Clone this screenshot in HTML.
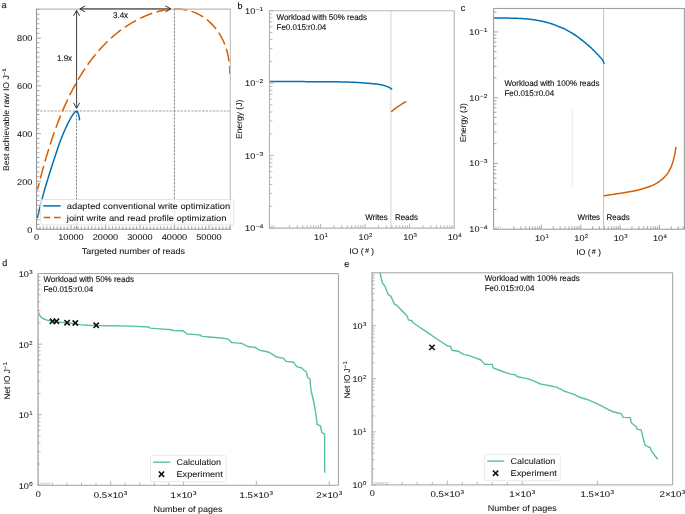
<!DOCTYPE html>
<html>
<head>
<meta charset="utf-8">
<title>Figure</title>
<style>
html,body{margin:0;padding:0;background:#ffffff;}
body{width:685px;height:514px;overflow:hidden;}
svg{display:block;will-change:transform;font-family:"Liberation Sans",sans-serif;}
text{stroke:#111;stroke-width:0.13px;text-rendering:geometricPrecision;}
text.d{stroke-width:0.06px;}
</style>
</head>
<body>
<svg width="685" height="514" viewBox="0 0 685 514">
<rect x="0" y="0" width="685" height="514" fill="#ffffff"/>
<defs><filter id="nf" filterUnits="userSpaceOnUse" x="0" y="0" width="685" height="514"><feOffset dx="0" dy="0"/></filter></defs>
<g filter="url(#nf)">
<line x1="36.5" y1="111" x2="230.3" y2="111" stroke="#a4a4a4" stroke-width="1.0" stroke-dasharray="2.4 1.2"/>
<line x1="76.5" y1="111" x2="76.5" y2="229.2" stroke="#6e6e6e" stroke-width="0.8" stroke-dasharray="2.5 1.1"/>
<line x1="174.4" y1="9.15" x2="174.4" y2="229.2" stroke="#6e6e6e" stroke-width="0.8" stroke-dasharray="2.5 1.1"/>
<path d="M37.4 218 L37.5 217.59 L37.61 217.09 L37.75 216.51 L37.9 215.85 L38.07 215.13 L38.24 214.37 L38.43 213.57 L38.62 212.75 L38.82 211.92 L39.01 211.1 L39.21 210.28 L39.4 209.5 L39.59 208.74 L39.77 207.99 L39.95 207.23 L40.14 206.48 L40.33 205.71 L40.52 204.93 L40.72 204.13 L40.93 203.3 L41.15 202.44 L41.38 201.54 L41.63 200.59 L41.9 199.6 L42.18 198.55 L42.48 197.45 L42.8 196.29 L43.13 195.1 L43.46 193.88 L43.81 192.63 L44.17 191.36 L44.53 190.09 L44.9 188.8 L45.26 187.52 L45.63 186.25 L46 185 L46.37 183.75 L46.75 182.5 L47.13 181.23 L47.52 179.96 L47.91 178.69 L48.31 177.41 L48.7 176.14 L49.1 174.86 L49.5 173.59 L49.9 172.32 L50.3 171.05 L50.7 169.8 L51.1 168.55 L51.49 167.31 L51.88 166.08 L52.28 164.84 L52.67 163.62 L53.07 162.39 L53.47 161.16 L53.87 159.93 L54.27 158.7 L54.68 157.47 L55.09 156.24 L55.5 155 L55.92 153.75 L56.35 152.47 L56.78 151.18 L57.22 149.89 L57.66 148.59 L58.1 147.29 L58.54 146.01 L58.98 144.75 L59.42 143.51 L59.85 142.3 L60.28 141.13 L60.7 140 L61.11 138.91 L61.53 137.85 L61.94 136.82 L62.34 135.81 L62.74 134.83 L63.14 133.88 L63.54 132.94 L63.94 132.02 L64.33 131.12 L64.72 130.23 L65.11 129.36 L65.5 128.5 L65.89 127.65 L66.28 126.82 L66.67 126 L67.06 125.19 L67.45 124.41 L67.83 123.64 L68.21 122.89 L68.59 122.16 L68.95 121.46 L69.31 120.78 L69.66 120.13 L70 119.5 L70.33 118.9 L70.65 118.32 L70.96 117.77 L71.26 117.24 L71.56 116.73 L71.85 116.25 L72.13 115.79 L72.41 115.35 L72.69 114.93 L72.96 114.53 L73.23 114.16 L73.5 113.8 L73.77 113.46 L74.03 113.14 L74.3 112.83 L74.56 112.54 L74.82 112.27 L75.07 112.03 L75.31 111.81 L75.55 111.63 L75.78 111.47 L76 111.34 L76.21 111.25 L76.4 111.2 L76.58 111.19 L76.75 111.23 L76.91 111.31 L77.05 111.42 L77.19 111.56 L77.32 111.73 L77.44 111.92 L77.56 112.13 L77.67 112.34 L77.78 112.56 L77.89 112.78 L78 113 L78.11 113.22 L78.21 113.46 L78.3 113.7 L78.39 113.96 L78.48 114.23 L78.56 114.51 L78.64 114.8 L78.72 115.09 L78.79 115.39 L78.86 115.69 L78.93 116 L79 116.3 L79.07 116.62 L79.13 116.97 L79.19 117.34 L79.25 117.73 L79.31 118.12 L79.36 118.51 L79.41 118.88 L79.46 119.24 L79.5 119.56 L79.54 119.86 L79.57 120.1 L79.6 120.3" fill="none" stroke="#0072B2" stroke-width="1.5" stroke-linejoin="round" stroke-linecap="butt"/>
<path d="M37.56 189.41 L38.05 187.47 L38.54 185.52 L39.03 183.56 L39.53 181.59 L40.04 179.62 L40.56 177.64 L41.08 175.65 L41.61 173.66 L42.15 171.66 L42.69 169.66 L43.25 167.65 L43.81 165.63 L44.38 163.61 L44.95 161.59 L45.54 159.56 L46.13 157.53 L46.74 155.5 L47.35 153.46 L47.97 151.42 L48.6 149.38 L49.24 147.34 L49.89 145.3 L50.55 143.26 L51.22 141.21 L51.9 139.17 L52.59 137.13 L53.29 135.09 L54 133.05 L54.72 131.01 L55.46 128.98 L56.2 126.95 L56.96 124.92 L57.72 122.89 L58.5 120.87 L59.3 118.85 L60.1 116.84 L60.91 114.83 L61.74 112.83 L62.58 110.83 L63.44 108.84 L64.3 106.86 L65.18 104.88 L66.08 102.91 L66.98 100.95 L67.9 99 L68.84 97.05 L69.79 95.12 L70.75 93.19 L71.73 91.28 L72.72 89.37 L73.72 87.47 L74.74 85.59 L75.78 83.72 L76.83 81.85 L77.9 80.01 L78.98 78.17 L80.08 76.35 L81.2 74.54 L82.33 72.74 L83.47 70.96 L84.64 69.19 L85.82 67.44 L87.01 65.7 L88.23 63.98 L89.46 62.27 L90.71 60.58 L91.97 58.91 L93.26 57.26 L94.56 55.62 L95.88 54 L97.22 52.4 L98.58 50.82 L99.95 49.26 L101.35 47.71 L102.77 46.19 L104.2 44.69 L105.66 43.21 L107.14 41.75 L108.64 40.31 L110.16 38.9 L111.71 37.5 L113.27 36.13 L114.86 34.79 L116.48 33.46 L118.11 32.16 L119.77 30.89 L121.45 29.64 L123.16 28.41 L124.89 27.22 L126.65 26.04 L128.43 24.9 L130.24 23.78 L132.07 22.68 L133.93 21.62 L135.81 20.58 L137.73 19.57 L139.66 18.59 L141.63 17.64 L143.62 16.73 L145.63 15.85 L147.67 15.01 L149.72 14.21 L151.79 13.45 L153.87 12.75 L155.96 12.09 L158.06 11.49 L160.17 10.95 L162.29 10.47 L164.4 10.05 L166.52 9.69 L168.64 9.41 L170.75 9.2 L172.86 9.06 L174.96 8.99 L177.06 9 L179.13 9.09 L181.2 9.26 L183.25 9.5 L185.28 9.82 L187.29 10.22 L189.28 10.7 L191.24 11.27 L193.17 11.91 L195.08 12.64 L196.96 13.46 L198.8 14.36 L200.6 15.34 L202.37 16.41 L204.1 17.56 L205.79 18.78 L207.43 20.08 L209.03 21.44 L210.58 22.88 L212.08 24.37 L213.53 25.93 L214.92 27.55 L216.26 29.22 L217.54 30.95 L218.75 32.72 L219.91 34.54 L221 36.4 L222.03 38.3 L222.98 40.24 L223.87 42.22 L224.69 44.22 L225.44 46.25 L226.13 48.31 L226.75 50.38 L227.31 52.48 L227.81 54.59 L228.25 56.72 L228.63 58.85 L228.96 60.99 L229.23 63.13 L229.45 65.28 L229.61 67.42 L229.73 69.56 L229.8 71.68 L229.82 73.8" fill="none" stroke="#D55E00" stroke-width="1.5" stroke-linejoin="round" stroke-dasharray="13.1 4.6" stroke-dashoffset="6.5"/>
<path d="M36.5 9.15 L230.3 9.15 L230.3 229.2" fill="none" stroke="#bcbcbc" stroke-width="1.1"/>
<path d="M36.5 8.65 L36.5 229.2 L230.8 229.2" fill="none" stroke="#969696" stroke-width="1.1"/>
<line x1="36.5" y1="229.2" x2="36.5" y2="224.8" stroke="#999999" stroke-width="0.9" />
<line x1="39.95" y1="229.2" x2="39.95" y2="226.3" stroke="#999999" stroke-width="0.9" />
<line x1="43.4" y1="229.2" x2="43.4" y2="226.3" stroke="#999999" stroke-width="0.9" />
<line x1="46.85" y1="229.2" x2="46.85" y2="226.3" stroke="#999999" stroke-width="0.9" />
<line x1="50.3" y1="229.2" x2="50.3" y2="226.3" stroke="#999999" stroke-width="0.9" />
<line x1="53.75" y1="229.2" x2="53.75" y2="226.3" stroke="#999999" stroke-width="0.9" />
<line x1="57.2" y1="229.2" x2="57.2" y2="226.3" stroke="#999999" stroke-width="0.9" />
<line x1="60.65" y1="229.2" x2="60.65" y2="226.3" stroke="#999999" stroke-width="0.9" />
<line x1="64.1" y1="229.2" x2="64.1" y2="226.3" stroke="#999999" stroke-width="0.9" />
<line x1="67.55" y1="229.2" x2="67.55" y2="226.3" stroke="#999999" stroke-width="0.9" />
<line x1="71" y1="229.2" x2="71" y2="224.8" stroke="#999999" stroke-width="0.9" />
<line x1="74.45" y1="229.2" x2="74.45" y2="226.3" stroke="#999999" stroke-width="0.9" />
<line x1="77.9" y1="229.2" x2="77.9" y2="226.3" stroke="#999999" stroke-width="0.9" />
<line x1="81.35" y1="229.2" x2="81.35" y2="226.3" stroke="#999999" stroke-width="0.9" />
<line x1="84.8" y1="229.2" x2="84.8" y2="226.3" stroke="#999999" stroke-width="0.9" />
<line x1="88.25" y1="229.2" x2="88.25" y2="226.3" stroke="#999999" stroke-width="0.9" />
<line x1="91.7" y1="229.2" x2="91.7" y2="226.3" stroke="#999999" stroke-width="0.9" />
<line x1="95.15" y1="229.2" x2="95.15" y2="226.3" stroke="#999999" stroke-width="0.9" />
<line x1="98.6" y1="229.2" x2="98.6" y2="226.3" stroke="#999999" stroke-width="0.9" />
<line x1="102.05" y1="229.2" x2="102.05" y2="226.3" stroke="#999999" stroke-width="0.9" />
<line x1="105.5" y1="229.2" x2="105.5" y2="224.8" stroke="#999999" stroke-width="0.9" />
<line x1="108.95" y1="229.2" x2="108.95" y2="226.3" stroke="#999999" stroke-width="0.9" />
<line x1="112.4" y1="229.2" x2="112.4" y2="226.3" stroke="#999999" stroke-width="0.9" />
<line x1="115.85" y1="229.2" x2="115.85" y2="226.3" stroke="#999999" stroke-width="0.9" />
<line x1="119.3" y1="229.2" x2="119.3" y2="226.3" stroke="#999999" stroke-width="0.9" />
<line x1="122.75" y1="229.2" x2="122.75" y2="226.3" stroke="#999999" stroke-width="0.9" />
<line x1="126.2" y1="229.2" x2="126.2" y2="226.3" stroke="#999999" stroke-width="0.9" />
<line x1="129.65" y1="229.2" x2="129.65" y2="226.3" stroke="#999999" stroke-width="0.9" />
<line x1="133.1" y1="229.2" x2="133.1" y2="226.3" stroke="#999999" stroke-width="0.9" />
<line x1="136.55" y1="229.2" x2="136.55" y2="226.3" stroke="#999999" stroke-width="0.9" />
<line x1="140" y1="229.2" x2="140" y2="224.8" stroke="#999999" stroke-width="0.9" />
<line x1="143.45" y1="229.2" x2="143.45" y2="226.3" stroke="#999999" stroke-width="0.9" />
<line x1="146.9" y1="229.2" x2="146.9" y2="226.3" stroke="#999999" stroke-width="0.9" />
<line x1="150.35" y1="229.2" x2="150.35" y2="226.3" stroke="#999999" stroke-width="0.9" />
<line x1="153.8" y1="229.2" x2="153.8" y2="226.3" stroke="#999999" stroke-width="0.9" />
<line x1="157.25" y1="229.2" x2="157.25" y2="226.3" stroke="#999999" stroke-width="0.9" />
<line x1="160.7" y1="229.2" x2="160.7" y2="226.3" stroke="#999999" stroke-width="0.9" />
<line x1="164.15" y1="229.2" x2="164.15" y2="226.3" stroke="#999999" stroke-width="0.9" />
<line x1="167.6" y1="229.2" x2="167.6" y2="226.3" stroke="#999999" stroke-width="0.9" />
<line x1="171.05" y1="229.2" x2="171.05" y2="226.3" stroke="#999999" stroke-width="0.9" />
<line x1="174.5" y1="229.2" x2="174.5" y2="224.8" stroke="#999999" stroke-width="0.9" />
<line x1="177.95" y1="229.2" x2="177.95" y2="226.3" stroke="#999999" stroke-width="0.9" />
<line x1="181.4" y1="229.2" x2="181.4" y2="226.3" stroke="#999999" stroke-width="0.9" />
<line x1="184.85" y1="229.2" x2="184.85" y2="226.3" stroke="#999999" stroke-width="0.9" />
<line x1="188.3" y1="229.2" x2="188.3" y2="226.3" stroke="#999999" stroke-width="0.9" />
<line x1="191.75" y1="229.2" x2="191.75" y2="226.3" stroke="#999999" stroke-width="0.9" />
<line x1="195.2" y1="229.2" x2="195.2" y2="226.3" stroke="#999999" stroke-width="0.9" />
<line x1="198.65" y1="229.2" x2="198.65" y2="226.3" stroke="#999999" stroke-width="0.9" />
<line x1="202.1" y1="229.2" x2="202.1" y2="226.3" stroke="#999999" stroke-width="0.9" />
<line x1="205.55" y1="229.2" x2="205.55" y2="226.3" stroke="#999999" stroke-width="0.9" />
<line x1="209" y1="229.2" x2="209" y2="224.8" stroke="#999999" stroke-width="0.9" />
<line x1="212.45" y1="229.2" x2="212.45" y2="226.3" stroke="#999999" stroke-width="0.9" />
<line x1="215.9" y1="229.2" x2="215.9" y2="226.3" stroke="#999999" stroke-width="0.9" />
<line x1="219.35" y1="229.2" x2="219.35" y2="226.3" stroke="#999999" stroke-width="0.9" />
<line x1="222.8" y1="229.2" x2="222.8" y2="226.3" stroke="#999999" stroke-width="0.9" />
<line x1="226.25" y1="229.2" x2="226.25" y2="226.3" stroke="#999999" stroke-width="0.9" />
<line x1="229.7" y1="229.2" x2="229.7" y2="226.3" stroke="#999999" stroke-width="0.9" />
<line x1="36.5" y1="229.2" x2="40.9" y2="229.2" stroke="#999999" stroke-width="0.9" />
<line x1="36.5" y1="224.42" x2="39.4" y2="224.42" stroke="#999999" stroke-width="0.9" />
<line x1="36.5" y1="219.64" x2="39.4" y2="219.64" stroke="#999999" stroke-width="0.9" />
<line x1="36.5" y1="214.87" x2="39.4" y2="214.87" stroke="#999999" stroke-width="0.9" />
<line x1="36.5" y1="210.09" x2="39.4" y2="210.09" stroke="#999999" stroke-width="0.9" />
<line x1="36.5" y1="205.31" x2="39.4" y2="205.31" stroke="#999999" stroke-width="0.9" />
<line x1="36.5" y1="200.53" x2="39.4" y2="200.53" stroke="#999999" stroke-width="0.9" />
<line x1="36.5" y1="195.75" x2="39.4" y2="195.75" stroke="#999999" stroke-width="0.9" />
<line x1="36.5" y1="190.98" x2="39.4" y2="190.98" stroke="#999999" stroke-width="0.9" />
<line x1="36.5" y1="186.2" x2="39.4" y2="186.2" stroke="#999999" stroke-width="0.9" />
<line x1="36.5" y1="181.42" x2="40.9" y2="181.42" stroke="#999999" stroke-width="0.9" />
<line x1="36.5" y1="176.64" x2="39.4" y2="176.64" stroke="#999999" stroke-width="0.9" />
<line x1="36.5" y1="171.86" x2="39.4" y2="171.86" stroke="#999999" stroke-width="0.9" />
<line x1="36.5" y1="167.09" x2="39.4" y2="167.09" stroke="#999999" stroke-width="0.9" />
<line x1="36.5" y1="162.31" x2="39.4" y2="162.31" stroke="#999999" stroke-width="0.9" />
<line x1="36.5" y1="157.53" x2="39.4" y2="157.53" stroke="#999999" stroke-width="0.9" />
<line x1="36.5" y1="152.75" x2="39.4" y2="152.75" stroke="#999999" stroke-width="0.9" />
<line x1="36.5" y1="147.97" x2="39.4" y2="147.97" stroke="#999999" stroke-width="0.9" />
<line x1="36.5" y1="143.2" x2="39.4" y2="143.2" stroke="#999999" stroke-width="0.9" />
<line x1="36.5" y1="138.42" x2="39.4" y2="138.42" stroke="#999999" stroke-width="0.9" />
<line x1="36.5" y1="133.64" x2="40.9" y2="133.64" stroke="#999999" stroke-width="0.9" />
<line x1="36.5" y1="128.86" x2="39.4" y2="128.86" stroke="#999999" stroke-width="0.9" />
<line x1="36.5" y1="124.08" x2="39.4" y2="124.08" stroke="#999999" stroke-width="0.9" />
<line x1="36.5" y1="119.31" x2="39.4" y2="119.31" stroke="#999999" stroke-width="0.9" />
<line x1="36.5" y1="114.53" x2="39.4" y2="114.53" stroke="#999999" stroke-width="0.9" />
<line x1="36.5" y1="109.75" x2="39.4" y2="109.75" stroke="#999999" stroke-width="0.9" />
<line x1="36.5" y1="104.97" x2="39.4" y2="104.97" stroke="#999999" stroke-width="0.9" />
<line x1="36.5" y1="100.19" x2="39.4" y2="100.19" stroke="#999999" stroke-width="0.9" />
<line x1="36.5" y1="95.42" x2="39.4" y2="95.42" stroke="#999999" stroke-width="0.9" />
<line x1="36.5" y1="90.64" x2="39.4" y2="90.64" stroke="#999999" stroke-width="0.9" />
<line x1="36.5" y1="85.86" x2="40.9" y2="85.86" stroke="#999999" stroke-width="0.9" />
<line x1="36.5" y1="81.08" x2="39.4" y2="81.08" stroke="#999999" stroke-width="0.9" />
<line x1="36.5" y1="76.3" x2="39.4" y2="76.3" stroke="#999999" stroke-width="0.9" />
<line x1="36.5" y1="71.53" x2="39.4" y2="71.53" stroke="#999999" stroke-width="0.9" />
<line x1="36.5" y1="66.75" x2="39.4" y2="66.75" stroke="#999999" stroke-width="0.9" />
<line x1="36.5" y1="61.97" x2="39.4" y2="61.97" stroke="#999999" stroke-width="0.9" />
<line x1="36.5" y1="57.19" x2="39.4" y2="57.19" stroke="#999999" stroke-width="0.9" />
<line x1="36.5" y1="52.41" x2="39.4" y2="52.41" stroke="#999999" stroke-width="0.9" />
<line x1="36.5" y1="47.64" x2="39.4" y2="47.64" stroke="#999999" stroke-width="0.9" />
<line x1="36.5" y1="42.86" x2="39.4" y2="42.86" stroke="#999999" stroke-width="0.9" />
<line x1="36.5" y1="38.08" x2="40.9" y2="38.08" stroke="#999999" stroke-width="0.9" />
<line x1="36.5" y1="33.3" x2="39.4" y2="33.3" stroke="#999999" stroke-width="0.9" />
<line x1="36.5" y1="28.52" x2="39.4" y2="28.52" stroke="#999999" stroke-width="0.9" />
<line x1="36.5" y1="23.75" x2="39.4" y2="23.75" stroke="#999999" stroke-width="0.9" />
<line x1="36.5" y1="18.97" x2="39.4" y2="18.97" stroke="#999999" stroke-width="0.9" />
<line x1="36.5" y1="14.19" x2="39.4" y2="14.19" stroke="#999999" stroke-width="0.9" />
<line x1="36.5" y1="9.41" x2="39.4" y2="9.41" stroke="#999999" stroke-width="0.9" />
<text class="d" x="33.96" y="240.2" font-size="8.4" fill="#111111" textLength="5.09" lengthAdjust="spacingAndGlyphs">0</text>
<text class="d" x="58.28" y="240.2" font-size="8.4" fill="#111111" textLength="25.45" lengthAdjust="spacingAndGlyphs">10000</text>
<text class="d" x="92.78" y="240.2" font-size="8.4" fill="#111111" textLength="25.45" lengthAdjust="spacingAndGlyphs">20000</text>
<text class="d" x="127.28" y="240.2" font-size="8.4" fill="#111111" textLength="25.45" lengthAdjust="spacingAndGlyphs">30000</text>
<text class="d" x="161.78" y="240.2" font-size="8.4" fill="#111111" textLength="25.45" lengthAdjust="spacingAndGlyphs">40000</text>
<text class="d" x="196.28" y="240.2" font-size="8.4" fill="#111111" textLength="25.45" lengthAdjust="spacingAndGlyphs">50000</text>
<text class="d" x="27.31" y="232.5" font-size="8.4" fill="#111111" textLength="5.09" lengthAdjust="spacingAndGlyphs">0</text>
<text class="d" x="17.13" y="184.72" font-size="8.4" fill="#111111" textLength="15.27" lengthAdjust="spacingAndGlyphs">200</text>
<text class="d" x="17.13" y="136.94" font-size="8.4" fill="#111111" textLength="15.27" lengthAdjust="spacingAndGlyphs">400</text>
<text class="d" x="17.13" y="89.16" font-size="8.4" fill="#111111" textLength="15.27" lengthAdjust="spacingAndGlyphs">600</text>
<text class="d" x="17.13" y="41.38" font-size="8.4" fill="#111111" textLength="15.27" lengthAdjust="spacingAndGlyphs">800</text>
<text class="d" x="81.65" y="254.1" font-size="8.4" fill="#111111" textLength="103.5" lengthAdjust="spacingAndGlyphs">Targeted number of reads</text>
<text class="d" x="9.4" y="171" font-size="8.29" fill="#111111" textLength="95.8" lengthAdjust="spacingAndGlyphs" transform="rotate(-90 9.4 171)">Best achievable raw IO J</text>
<text class="d" x="6" y="75.6" font-size="5.25" fill="#111111" textLength="7.37" lengthAdjust="spacingAndGlyphs" transform="rotate(-90 6 75.6)">−1</text>
<text x="1.6" y="7.9" font-size="9.36" fill="#111111" textLength="5.01" lengthAdjust="spacingAndGlyphs" >a</text>
<line x1="80" y1="8.9" x2="170.4" y2="8.9" stroke="#555555" stroke-width="1.2" />
<path d="M85.2 5.9 L79.8 8.9 L85.2 11.9 M165.4 5.9 L170.8 8.9 L165.4 11.9" fill="none" stroke="#222" stroke-width="0.9"/>
<line x1="76.6" y1="10.9" x2="76.6" y2="108" stroke="#2a2a2a" stroke-width="0.9" />
<path d="M73.6 15.8 L76.6 10.4 L79.6 15.8 M73.5 102.8 L76.6 108.4 L79.7 102.8" fill="none" stroke="#222" stroke-width="0.9"/>
<text x="113" y="17.9" font-size="8.32" fill="#111111" textLength="15.12" lengthAdjust="spacingAndGlyphs" >3.4x</text>
<text x="57" y="60.5" font-size="8.32" fill="#111111" textLength="15.12" lengthAdjust="spacingAndGlyphs" >1.9x</text>
<rect x="40.6" y="199.5" width="193.1" height="25.3" rx="1.6" fill="#fff" fill-opacity="0.8" stroke="#dedede" stroke-width="0.8"/>
<line x1="43.2" y1="205.9" x2="60.6" y2="205.9" stroke="#0072B2" stroke-width="1.5" />
<line x1="43.6" y1="217.6" x2="60.6" y2="217.6" stroke="#D55E00" stroke-width="1.5" stroke-dasharray="6.8 3.6"/>
<text class="d" x="66.8" y="208.5" font-size="8.46" fill="#111111" textLength="163.37" lengthAdjust="spacingAndGlyphs">adapted conventional write optimization</text>
<text class="d" x="66.8" y="220.5" font-size="8.46" fill="#111111" textLength="159.67" lengthAdjust="spacingAndGlyphs">joint write and read profile optimization</text>
<line x1="390.9" y1="10.7" x2="390.9" y2="228.1" stroke="#dcdcdc" stroke-width="1.2" />
<path d="M269.4 81.6 L270.85 81.6 L272.62 81.6 L274.68 81.59 L276.99 81.59 L279.5 81.58 L282.2 81.58 L285.03 81.58 L287.97 81.58 L290.97 81.58 L294 81.58 L297.02 81.59 L300 81.6 L303.08 81.61 L306.38 81.63 L309.87 81.65 L313.47 81.67 L317.14 81.69 L320.82 81.71 L324.45 81.74 L327.99 81.77 L331.36 81.8 L334.53 81.83 L337.42 81.86 L340 81.9 L342.25 81.94 L344.22 81.97 L345.96 82.01 L347.5 82.05 L348.89 82.09 L350.16 82.13 L351.35 82.18 L352.5 82.23 L353.65 82.29 L354.84 82.35 L356.11 82.42 L357.5 82.5 L358.99 82.59 L360.55 82.69 L362.14 82.81 L363.76 82.93 L365.37 83.05 L366.97 83.18 L368.52 83.31 L370.02 83.44 L371.43 83.57 L372.75 83.69 L373.94 83.8 L375 83.9 L375.91 83.99 L376.68 84.08 L377.34 84.15 L377.9 84.23 L378.39 84.3 L378.81 84.36 L379.18 84.43 L379.53 84.5 L379.87 84.57 L380.21 84.64 L380.59 84.72 L381 84.8 L381.43 84.89 L381.86 84.98 L382.26 85.07 L382.66 85.16 L383.05 85.26 L383.43 85.36 L383.8 85.46 L384.17 85.56 L384.53 85.66 L384.89 85.77 L385.25 85.89 L385.6 86 L385.95 86.12 L386.31 86.24 L386.65 86.36 L387 86.49 L387.34 86.62 L387.68 86.76 L388 86.89 L388.32 87.03 L388.63 87.17 L388.93 87.31 L389.22 87.45 L389.5 87.6 L389.77 87.75 L390.04 87.92 L390.3 88.1 L390.56 88.28 L390.81 88.47 L391.04 88.65 L391.27 88.83 L391.47 89 L391.66 89.15 L391.83 89.29 L391.98 89.41 L392.1 89.5" fill="none" stroke="#0072B2" stroke-width="1.5" stroke-linejoin="round" />
<path d="M391.2 111.8 L391.37 111.66 L391.59 111.48 L391.84 111.28 L392.12 111.05 L392.42 110.8 L392.75 110.53 L393.09 110.26 L393.44 109.97 L393.79 109.69 L394.14 109.42 L394.47 109.15 L394.8 108.9 L395.12 108.66 L395.45 108.41 L395.78 108.16 L396.11 107.91 L396.45 107.67 L396.79 107.42 L397.13 107.17 L397.47 106.93 L397.81 106.69 L398.15 106.45 L398.48 106.22 L398.8 106 L399.12 105.78 L399.43 105.57 L399.74 105.36 L400.05 105.16 L400.36 104.95 L400.66 104.76 L400.97 104.56 L401.27 104.37 L401.57 104.17 L401.88 103.98 L402.19 103.79 L402.5 103.6 L402.83 103.4 L403.17 103.2 L403.53 102.98 L403.9 102.77 L404.27 102.56 L404.63 102.35 L404.98 102.15 L405.31 101.96 L405.61 101.79 L405.89 101.64 L406.12 101.51 L406.3 101.4" fill="none" stroke="#D55E00" stroke-width="1.5" stroke-linejoin="round" />
<path d="M269.5 10.7 L454.3 10.7 L454.3 228.1" fill="none" stroke="#b8b8b8" stroke-width="1.15"/>
<path d="M269.5 10.2 L269.5 228.1 L454.8 228.1" fill="none" stroke="#b2b2b2" stroke-width="1.15"/>
<line x1="289.4" y1="228.1" x2="289.4" y2="225.2" stroke="#b0b0b0" stroke-width="0.9" />
<line x1="297.25" y1="228.1" x2="297.25" y2="225.2" stroke="#b0b0b0" stroke-width="0.9" />
<line x1="302.81" y1="228.1" x2="302.81" y2="225.2" stroke="#b0b0b0" stroke-width="0.9" />
<line x1="307.13" y1="228.1" x2="307.13" y2="225.2" stroke="#b0b0b0" stroke-width="0.9" />
<line x1="310.65" y1="228.1" x2="310.65" y2="225.2" stroke="#b0b0b0" stroke-width="0.9" />
<line x1="313.63" y1="228.1" x2="313.63" y2="225.2" stroke="#b0b0b0" stroke-width="0.9" />
<line x1="316.21" y1="228.1" x2="316.21" y2="225.2" stroke="#b0b0b0" stroke-width="0.9" />
<line x1="318.49" y1="228.1" x2="318.49" y2="225.2" stroke="#b0b0b0" stroke-width="0.9" />
<line x1="320.53" y1="228.1" x2="320.53" y2="223.7" stroke="#b0b0b0" stroke-width="0.9" />
<line x1="333.93" y1="228.1" x2="333.93" y2="225.2" stroke="#b0b0b0" stroke-width="0.9" />
<line x1="341.78" y1="228.1" x2="341.78" y2="225.2" stroke="#b0b0b0" stroke-width="0.9" />
<line x1="347.34" y1="228.1" x2="347.34" y2="225.2" stroke="#b0b0b0" stroke-width="0.9" />
<line x1="351.66" y1="228.1" x2="351.66" y2="225.2" stroke="#b0b0b0" stroke-width="0.9" />
<line x1="355.18" y1="228.1" x2="355.18" y2="225.2" stroke="#b0b0b0" stroke-width="0.9" />
<line x1="358.16" y1="228.1" x2="358.16" y2="225.2" stroke="#b0b0b0" stroke-width="0.9" />
<line x1="360.74" y1="228.1" x2="360.74" y2="225.2" stroke="#b0b0b0" stroke-width="0.9" />
<line x1="363.02" y1="228.1" x2="363.02" y2="225.2" stroke="#b0b0b0" stroke-width="0.9" />
<line x1="365.06" y1="228.1" x2="365.06" y2="223.7" stroke="#b0b0b0" stroke-width="0.9" />
<line x1="378.46" y1="228.1" x2="378.46" y2="225.2" stroke="#b0b0b0" stroke-width="0.9" />
<line x1="386.31" y1="228.1" x2="386.31" y2="225.2" stroke="#b0b0b0" stroke-width="0.9" />
<line x1="391.87" y1="228.1" x2="391.87" y2="225.2" stroke="#b0b0b0" stroke-width="0.9" />
<line x1="396.19" y1="228.1" x2="396.19" y2="225.2" stroke="#b0b0b0" stroke-width="0.9" />
<line x1="399.71" y1="228.1" x2="399.71" y2="225.2" stroke="#b0b0b0" stroke-width="0.9" />
<line x1="402.69" y1="228.1" x2="402.69" y2="225.2" stroke="#b0b0b0" stroke-width="0.9" />
<line x1="405.27" y1="228.1" x2="405.27" y2="225.2" stroke="#b0b0b0" stroke-width="0.9" />
<line x1="407.55" y1="228.1" x2="407.55" y2="225.2" stroke="#b0b0b0" stroke-width="0.9" />
<line x1="409.59" y1="228.1" x2="409.59" y2="223.7" stroke="#b0b0b0" stroke-width="0.9" />
<line x1="422.99" y1="228.1" x2="422.99" y2="225.2" stroke="#b0b0b0" stroke-width="0.9" />
<line x1="430.84" y1="228.1" x2="430.84" y2="225.2" stroke="#b0b0b0" stroke-width="0.9" />
<line x1="436.4" y1="228.1" x2="436.4" y2="225.2" stroke="#b0b0b0" stroke-width="0.9" />
<line x1="440.72" y1="228.1" x2="440.72" y2="225.2" stroke="#b0b0b0" stroke-width="0.9" />
<line x1="444.24" y1="228.1" x2="444.24" y2="225.2" stroke="#b0b0b0" stroke-width="0.9" />
<line x1="447.22" y1="228.1" x2="447.22" y2="225.2" stroke="#b0b0b0" stroke-width="0.9" />
<line x1="449.8" y1="228.1" x2="449.8" y2="225.2" stroke="#b0b0b0" stroke-width="0.9" />
<line x1="452.08" y1="228.1" x2="452.08" y2="225.2" stroke="#b0b0b0" stroke-width="0.9" />
<line x1="271.1" y1="228.1" x2="271.1" y2="225.1" stroke="#cccccc" stroke-width="0.9" />
<line x1="272.7" y1="228.1" x2="272.7" y2="225.1" stroke="#cccccc" stroke-width="0.9" />
<line x1="274.4" y1="228.1" x2="274.4" y2="225.1" stroke="#cccccc" stroke-width="0.9" />
<line x1="269.5" y1="228.1" x2="273.9" y2="228.1" stroke="#b0b0b0" stroke-width="0.9" />
<line x1="269.5" y1="206.29" x2="272.4" y2="206.29" stroke="#b0b0b0" stroke-width="0.9" />
<line x1="269.5" y1="193.52" x2="272.4" y2="193.52" stroke="#b0b0b0" stroke-width="0.9" />
<line x1="269.5" y1="184.47" x2="272.4" y2="184.47" stroke="#b0b0b0" stroke-width="0.9" />
<line x1="269.5" y1="177.45" x2="272.4" y2="177.45" stroke="#b0b0b0" stroke-width="0.9" />
<line x1="269.5" y1="171.71" x2="272.4" y2="171.71" stroke="#b0b0b0" stroke-width="0.9" />
<line x1="269.5" y1="166.86" x2="272.4" y2="166.86" stroke="#b0b0b0" stroke-width="0.9" />
<line x1="269.5" y1="162.66" x2="272.4" y2="162.66" stroke="#b0b0b0" stroke-width="0.9" />
<line x1="269.5" y1="158.95" x2="272.4" y2="158.95" stroke="#b0b0b0" stroke-width="0.9" />
<line x1="269.5" y1="155.63" x2="273.9" y2="155.63" stroke="#b0b0b0" stroke-width="0.9" />
<line x1="269.5" y1="133.82" x2="272.4" y2="133.82" stroke="#b0b0b0" stroke-width="0.9" />
<line x1="269.5" y1="121.06" x2="272.4" y2="121.06" stroke="#b0b0b0" stroke-width="0.9" />
<line x1="269.5" y1="112" x2="272.4" y2="112" stroke="#b0b0b0" stroke-width="0.9" />
<line x1="269.5" y1="104.98" x2="272.4" y2="104.98" stroke="#b0b0b0" stroke-width="0.9" />
<line x1="269.5" y1="99.24" x2="272.4" y2="99.24" stroke="#b0b0b0" stroke-width="0.9" />
<line x1="269.5" y1="94.39" x2="272.4" y2="94.39" stroke="#b0b0b0" stroke-width="0.9" />
<line x1="269.5" y1="90.19" x2="272.4" y2="90.19" stroke="#b0b0b0" stroke-width="0.9" />
<line x1="269.5" y1="86.48" x2="272.4" y2="86.48" stroke="#b0b0b0" stroke-width="0.9" />
<line x1="269.5" y1="83.17" x2="273.9" y2="83.17" stroke="#b0b0b0" stroke-width="0.9" />
<line x1="269.5" y1="61.35" x2="272.4" y2="61.35" stroke="#b0b0b0" stroke-width="0.9" />
<line x1="269.5" y1="48.59" x2="272.4" y2="48.59" stroke="#b0b0b0" stroke-width="0.9" />
<line x1="269.5" y1="39.54" x2="272.4" y2="39.54" stroke="#b0b0b0" stroke-width="0.9" />
<line x1="269.5" y1="32.51" x2="272.4" y2="32.51" stroke="#b0b0b0" stroke-width="0.9" />
<line x1="269.5" y1="26.78" x2="272.4" y2="26.78" stroke="#b0b0b0" stroke-width="0.9" />
<line x1="269.5" y1="21.93" x2="272.4" y2="21.93" stroke="#b0b0b0" stroke-width="0.9" />
<line x1="269.5" y1="17.72" x2="272.4" y2="17.72" stroke="#b0b0b0" stroke-width="0.9" />
<line x1="269.5" y1="14.02" x2="272.4" y2="14.02" stroke="#b0b0b0" stroke-width="0.9" />
<line x1="269.5" y1="10.7" x2="273.9" y2="10.7" stroke="#b0b0b0" stroke-width="0.9" />
<text class="d" x="245.11" y="231.4" font-size="8.4" fill="#111111" textLength="10.18" lengthAdjust="spacingAndGlyphs">10</text>
<text class="d" x="255.59" y="228.4" font-size="5.57" fill="#111111" textLength="7.81" lengthAdjust="spacingAndGlyphs">−4</text>
<text class="d" x="245.11" y="158.93" font-size="8.4" fill="#111111" textLength="10.18" lengthAdjust="spacingAndGlyphs">10</text>
<text class="d" x="255.59" y="155.93" font-size="5.57" fill="#111111" textLength="7.81" lengthAdjust="spacingAndGlyphs">−3</text>
<text class="d" x="245.11" y="86.47" font-size="8.4" fill="#111111" textLength="10.18" lengthAdjust="spacingAndGlyphs">10</text>
<text class="d" x="255.59" y="83.47" font-size="5.57" fill="#111111" textLength="7.81" lengthAdjust="spacingAndGlyphs">−2</text>
<text class="d" x="245.11" y="14" font-size="8.4" fill="#111111" textLength="10.18" lengthAdjust="spacingAndGlyphs">10</text>
<text class="d" x="255.59" y="11" font-size="5.57" fill="#111111" textLength="7.81" lengthAdjust="spacingAndGlyphs">−1</text>
<text class="d" x="314.1" y="239.6" font-size="8.4" fill="#111111" textLength="10.18" lengthAdjust="spacingAndGlyphs">10</text>
<text class="d" x="324.58" y="236.6" font-size="5.57" fill="#111111" textLength="3.37" lengthAdjust="spacingAndGlyphs">1</text>
<text class="d" x="358.63" y="239.6" font-size="8.4" fill="#111111" textLength="10.18" lengthAdjust="spacingAndGlyphs">10</text>
<text class="d" x="369.11" y="236.6" font-size="5.57" fill="#111111" textLength="3.37" lengthAdjust="spacingAndGlyphs">2</text>
<text class="d" x="403.16" y="239.6" font-size="8.4" fill="#111111" textLength="10.18" lengthAdjust="spacingAndGlyphs">10</text>
<text class="d" x="413.64" y="236.6" font-size="5.57" fill="#111111" textLength="3.37" lengthAdjust="spacingAndGlyphs">3</text>
<text class="d" x="447.69" y="239.6" font-size="8.4" fill="#111111" textLength="10.18" lengthAdjust="spacingAndGlyphs">10</text>
<text class="d" x="458.17" y="236.6" font-size="5.57" fill="#111111" textLength="3.37" lengthAdjust="spacingAndGlyphs">4</text>
<text x="276.5" y="19.6" font-size="8.32" fill="#111111" textLength="90.56" lengthAdjust="spacingAndGlyphs" >Workload with 50% reads</text>
<text x="276.5" y="29.5" font-size="8.32" fill="#111111" textLength="49.81" lengthAdjust="spacingAndGlyphs" >Fe0.015:r0.04</text>
<text x="365.2" y="219.9" font-size="8.32" fill="#111111" textLength="22.52" lengthAdjust="spacingAndGlyphs" >Writes</text>
<text x="394.9" y="219.9" font-size="8.32" fill="#111111" textLength="23.12" lengthAdjust="spacingAndGlyphs" >Reads</text>
<text class="d" x="349.38" y="253.6" font-size="8.4" fill="#111111" textLength="14.32" lengthAdjust="spacingAndGlyphs">IO (</text>
<text x="364.9" y="253.4" font-size="7.0" font-style="italic" fill="#111111">#</text>
<text class="d" x="371.1" y="253.6" font-size="8.4" fill="#111111" textLength="3.12" lengthAdjust="spacingAndGlyphs">)</text>
<text class="d" x="241.6" y="138.9" font-size="8.4" fill="#111111" textLength="39.15" lengthAdjust="spacingAndGlyphs" transform="rotate(-90 241.6 138.9)">Energy (J)</text>
<text x="237.6" y="8.8" font-size="9.36" fill="#111111" textLength="5.01" lengthAdjust="spacingAndGlyphs" >b</text>
<line x1="603.6" y1="8.5" x2="603.6" y2="229.2" stroke="#c4c4c4" stroke-width="1.0" />
<line x1="572.3" y1="108" x2="572.3" y2="186.7" stroke="#e4e4e4" stroke-width="0.8" />
<path d="M493.6 18 L494.29 18 L495.19 18.01 L496.25 18.02 L497.44 18.02 L498.72 18.03 L500.08 18.04 L501.45 18.05 L502.83 18.06 L504.17 18.07 L505.43 18.08 L506.58 18.09 L507.6 18.1 L508.49 18.11 L509.31 18.12 L510.08 18.14 L510.79 18.15 L511.46 18.16 L512.1 18.18 L512.73 18.19 L513.35 18.21 L513.98 18.23 L514.62 18.25 L515.29 18.27 L516 18.3 L516.74 18.33 L517.49 18.36 L518.25 18.39 L519.02 18.43 L519.8 18.46 L520.57 18.5 L521.35 18.54 L522.13 18.59 L522.91 18.63 L523.68 18.68 L524.44 18.74 L525.2 18.8 L525.95 18.86 L526.69 18.93 L527.43 19 L528.17 19.07 L528.9 19.15 L529.63 19.23 L530.36 19.32 L531.09 19.4 L531.82 19.5 L532.54 19.59 L533.27 19.69 L534 19.8 L534.73 19.91 L535.45 20.02 L536.18 20.14 L536.9 20.26 L537.63 20.38 L538.35 20.51 L539.07 20.65 L539.8 20.79 L540.52 20.93 L541.25 21.08 L541.97 21.24 L542.7 21.4 L543.43 21.57 L544.16 21.74 L544.89 21.92 L545.63 22.1 L546.36 22.29 L547.09 22.49 L547.83 22.69 L548.56 22.9 L549.3 23.11 L550.03 23.33 L550.77 23.56 L551.5 23.8 L552.25 24.05 L553.01 24.32 L553.8 24.61 L554.59 24.91 L555.37 25.22 L556.16 25.53 L556.92 25.83 L557.67 26.13 L558.39 26.43 L559.07 26.7 L559.71 26.96 L560.3 27.2 L560.82 27.4 L561.26 27.57 L561.64 27.71 L561.97 27.83 L562.28 27.94 L562.57 28.05 L562.87 28.17 L563.19 28.3 L563.55 28.47 L563.96 28.66 L564.44 28.9 L565 29.2 L565.66 29.55 L566.39 29.95 L567.19 30.39 L568.03 30.86 L568.92 31.36 L569.83 31.88 L570.74 32.41 L571.66 32.94 L572.55 33.48 L573.42 34 L574.24 34.51 L575 35 L575.71 35.47 L576.38 35.93 L577.03 36.38 L577.65 36.82 L578.25 37.27 L578.84 37.71 L579.43 38.16 L580.02 38.62 L580.61 39.09 L581.22 39.58 L581.85 40.08 L582.5 40.6 L583.17 41.14 L583.85 41.68 L584.54 42.24 L585.24 42.81 L585.95 43.39 L586.66 43.97 L587.37 44.58 L588.09 45.19 L588.82 45.82 L589.54 46.47 L590.27 47.12 L591 47.8 L591.75 48.52 L592.55 49.29 L593.36 50.1 L594.2 50.94 L595.04 51.8 L595.87 52.65 L596.68 53.49 L597.46 54.3 L598.19 55.07 L598.86 55.79 L599.47 56.44 L600 57 L600.44 57.47 L600.82 57.87 L601.12 58.21 L601.38 58.49 L601.59 58.73 L601.76 58.94 L601.91 59.13 L602.04 59.31 L602.17 59.5 L602.3 59.7 L602.44 59.93 L602.6 60.2 L602.77 60.51 L602.94 60.84 L603.11 61.2 L603.27 61.56 L603.42 61.93 L603.56 62.3 L603.7 62.66 L603.82 62.99 L603.94 63.3 L604.04 63.58 L604.13 63.81 L604.2 64" fill="none" stroke="#0072B2" stroke-width="1.5" stroke-linejoin="round" />
<path d="M603.6 195.8 L604.3 195.7 L605.2 195.56 L606.27 195.4 L607.47 195.22 L608.78 195.03 L610.14 194.82 L611.53 194.62 L612.9 194.41 L614.24 194.21 L615.49 194.02 L616.62 193.85 L617.6 193.7 L618.43 193.57 L619.14 193.46 L619.77 193.37 L620.33 193.29 L620.84 193.21 L621.33 193.13 L621.81 193.05 L622.32 192.97 L622.87 192.88 L623.48 192.77 L624.19 192.65 L625 192.5 L625.92 192.34 L626.91 192.17 L627.96 191.99 L629.07 191.8 L630.23 191.61 L631.41 191.4 L632.62 191.18 L633.84 190.95 L635.05 190.71 L636.26 190.45 L637.45 190.18 L638.6 189.9 L639.75 189.6 L640.93 189.28 L642.13 188.94 L643.33 188.59 L644.54 188.22 L645.74 187.84 L646.92 187.46 L648.07 187.07 L649.18 186.68 L650.25 186.28 L651.26 185.89 L652.2 185.5 L653.08 185.11 L653.91 184.71 L654.7 184.31 L655.44 183.91 L656.14 183.5 L656.81 183.09 L657.46 182.67 L658.07 182.26 L658.67 181.84 L659.26 181.43 L659.83 181.01 L660.4 180.6 L660.95 180.19 L661.48 179.79 L661.98 179.38 L662.46 178.98 L662.91 178.58 L663.36 178.18 L663.78 177.77 L664.2 177.35 L664.61 176.93 L665.01 176.5 L665.4 176.06 L665.8 175.6 L666.19 175.13 L666.57 174.66 L666.95 174.17 L667.31 173.67 L667.67 173.17 L668.02 172.66 L668.36 172.15 L668.69 171.63 L669 171.1 L669.31 170.57 L669.61 170.04 L669.9 169.5 L670.18 168.96 L670.44 168.42 L670.69 167.88 L670.93 167.34 L671.15 166.79 L671.38 166.23 L671.59 165.67 L671.8 165.1 L672 164.51 L672.2 163.92 L672.4 163.32 L672.6 162.7 L672.8 162.06 L672.99 161.41 L673.19 160.73 L673.37 160.04 L673.56 159.35 L673.74 158.64 L673.91 157.94 L674.08 157.23 L674.25 156.53 L674.4 155.84 L674.55 155.16 L674.7 154.5 L674.84 153.83 L674.98 153.12 L675.11 152.4 L675.24 151.67 L675.36 150.95 L675.48 150.24 L675.59 149.56 L675.69 148.92 L675.79 148.33 L675.87 147.81 L675.94 147.36 L676 147" fill="none" stroke="#D55E00" stroke-width="1.5" stroke-linejoin="round" />
<rect x="493.6" y="8.5" width="190.8" height="220.7" fill="none" stroke="#a0a0a0" stroke-width="1.1"/>
<line x1="513.9" y1="229.2" x2="513.9" y2="226.3" stroke="#9c9c9c" stroke-width="0.9" />
<line x1="520.82" y1="229.2" x2="520.82" y2="226.3" stroke="#9c9c9c" stroke-width="0.9" />
<line x1="525.74" y1="229.2" x2="525.74" y2="226.3" stroke="#9c9c9c" stroke-width="0.9" />
<line x1="529.55" y1="229.2" x2="529.55" y2="226.3" stroke="#9c9c9c" stroke-width="0.9" />
<line x1="532.67" y1="229.2" x2="532.67" y2="226.3" stroke="#9c9c9c" stroke-width="0.9" />
<line x1="535.3" y1="229.2" x2="535.3" y2="226.3" stroke="#9c9c9c" stroke-width="0.9" />
<line x1="537.59" y1="229.2" x2="537.59" y2="226.3" stroke="#9c9c9c" stroke-width="0.9" />
<line x1="539.6" y1="229.2" x2="539.6" y2="226.3" stroke="#9c9c9c" stroke-width="0.9" />
<line x1="541.4" y1="229.2" x2="541.4" y2="224.8" stroke="#9c9c9c" stroke-width="0.9" />
<line x1="553.25" y1="229.2" x2="553.25" y2="226.3" stroke="#9c9c9c" stroke-width="0.9" />
<line x1="560.17" y1="229.2" x2="560.17" y2="226.3" stroke="#9c9c9c" stroke-width="0.9" />
<line x1="565.09" y1="229.2" x2="565.09" y2="226.3" stroke="#9c9c9c" stroke-width="0.9" />
<line x1="568.9" y1="229.2" x2="568.9" y2="226.3" stroke="#9c9c9c" stroke-width="0.9" />
<line x1="572.02" y1="229.2" x2="572.02" y2="226.3" stroke="#9c9c9c" stroke-width="0.9" />
<line x1="574.65" y1="229.2" x2="574.65" y2="226.3" stroke="#9c9c9c" stroke-width="0.9" />
<line x1="576.94" y1="229.2" x2="576.94" y2="226.3" stroke="#9c9c9c" stroke-width="0.9" />
<line x1="578.95" y1="229.2" x2="578.95" y2="226.3" stroke="#9c9c9c" stroke-width="0.9" />
<line x1="580.75" y1="229.2" x2="580.75" y2="224.8" stroke="#9c9c9c" stroke-width="0.9" />
<line x1="592.6" y1="229.2" x2="592.6" y2="226.3" stroke="#9c9c9c" stroke-width="0.9" />
<line x1="599.52" y1="229.2" x2="599.52" y2="226.3" stroke="#9c9c9c" stroke-width="0.9" />
<line x1="604.44" y1="229.2" x2="604.44" y2="226.3" stroke="#9c9c9c" stroke-width="0.9" />
<line x1="608.25" y1="229.2" x2="608.25" y2="226.3" stroke="#9c9c9c" stroke-width="0.9" />
<line x1="611.37" y1="229.2" x2="611.37" y2="226.3" stroke="#9c9c9c" stroke-width="0.9" />
<line x1="614" y1="229.2" x2="614" y2="226.3" stroke="#9c9c9c" stroke-width="0.9" />
<line x1="616.29" y1="229.2" x2="616.29" y2="226.3" stroke="#9c9c9c" stroke-width="0.9" />
<line x1="618.3" y1="229.2" x2="618.3" y2="226.3" stroke="#9c9c9c" stroke-width="0.9" />
<line x1="620.1" y1="229.2" x2="620.1" y2="224.8" stroke="#9c9c9c" stroke-width="0.9" />
<line x1="631.95" y1="229.2" x2="631.95" y2="226.3" stroke="#9c9c9c" stroke-width="0.9" />
<line x1="638.87" y1="229.2" x2="638.87" y2="226.3" stroke="#9c9c9c" stroke-width="0.9" />
<line x1="643.79" y1="229.2" x2="643.79" y2="226.3" stroke="#9c9c9c" stroke-width="0.9" />
<line x1="647.6" y1="229.2" x2="647.6" y2="226.3" stroke="#9c9c9c" stroke-width="0.9" />
<line x1="650.72" y1="229.2" x2="650.72" y2="226.3" stroke="#9c9c9c" stroke-width="0.9" />
<line x1="653.35" y1="229.2" x2="653.35" y2="226.3" stroke="#9c9c9c" stroke-width="0.9" />
<line x1="655.64" y1="229.2" x2="655.64" y2="226.3" stroke="#9c9c9c" stroke-width="0.9" />
<line x1="657.65" y1="229.2" x2="657.65" y2="226.3" stroke="#9c9c9c" stroke-width="0.9" />
<line x1="659.45" y1="229.2" x2="659.45" y2="224.8" stroke="#9c9c9c" stroke-width="0.9" />
<line x1="671.3" y1="229.2" x2="671.3" y2="226.3" stroke="#9c9c9c" stroke-width="0.9" />
<line x1="678.22" y1="229.2" x2="678.22" y2="226.3" stroke="#9c9c9c" stroke-width="0.9" />
<line x1="683.14" y1="229.2" x2="683.14" y2="226.3" stroke="#9c9c9c" stroke-width="0.9" />
<line x1="495.9" y1="229.2" x2="495.9" y2="226.2" stroke="#cccccc" stroke-width="1.3" />
<line x1="498.4" y1="229.2" x2="498.4" y2="226.2" stroke="#cccccc" stroke-width="0.9" />
<line x1="500.5" y1="229.2" x2="500.5" y2="226.2" stroke="#cccccc" stroke-width="0.9" />
<line x1="493.6" y1="229.3" x2="498" y2="229.3" stroke="#9c9c9c" stroke-width="0.9" />
<line x1="493.6" y1="209.49" x2="496.5" y2="209.49" stroke="#9c9c9c" stroke-width="0.9" />
<line x1="493.6" y1="197.91" x2="496.5" y2="197.91" stroke="#9c9c9c" stroke-width="0.9" />
<line x1="493.6" y1="189.68" x2="496.5" y2="189.68" stroke="#9c9c9c" stroke-width="0.9" />
<line x1="493.6" y1="183.31" x2="496.5" y2="183.31" stroke="#9c9c9c" stroke-width="0.9" />
<line x1="493.6" y1="178.1" x2="496.5" y2="178.1" stroke="#9c9c9c" stroke-width="0.9" />
<line x1="493.6" y1="173.69" x2="496.5" y2="173.69" stroke="#9c9c9c" stroke-width="0.9" />
<line x1="493.6" y1="169.88" x2="496.5" y2="169.88" stroke="#9c9c9c" stroke-width="0.9" />
<line x1="493.6" y1="166.51" x2="496.5" y2="166.51" stroke="#9c9c9c" stroke-width="0.9" />
<line x1="493.6" y1="163.5" x2="498" y2="163.5" stroke="#9c9c9c" stroke-width="0.9" />
<line x1="493.6" y1="143.69" x2="496.5" y2="143.69" stroke="#9c9c9c" stroke-width="0.9" />
<line x1="493.6" y1="132.11" x2="496.5" y2="132.11" stroke="#9c9c9c" stroke-width="0.9" />
<line x1="493.6" y1="123.88" x2="496.5" y2="123.88" stroke="#9c9c9c" stroke-width="0.9" />
<line x1="493.6" y1="117.51" x2="496.5" y2="117.51" stroke="#9c9c9c" stroke-width="0.9" />
<line x1="493.6" y1="112.3" x2="496.5" y2="112.3" stroke="#9c9c9c" stroke-width="0.9" />
<line x1="493.6" y1="107.89" x2="496.5" y2="107.89" stroke="#9c9c9c" stroke-width="0.9" />
<line x1="493.6" y1="104.08" x2="496.5" y2="104.08" stroke="#9c9c9c" stroke-width="0.9" />
<line x1="493.6" y1="100.71" x2="496.5" y2="100.71" stroke="#9c9c9c" stroke-width="0.9" />
<line x1="493.6" y1="97.7" x2="498" y2="97.7" stroke="#9c9c9c" stroke-width="0.9" />
<line x1="493.6" y1="77.89" x2="496.5" y2="77.89" stroke="#9c9c9c" stroke-width="0.9" />
<line x1="493.6" y1="66.31" x2="496.5" y2="66.31" stroke="#9c9c9c" stroke-width="0.9" />
<line x1="493.6" y1="58.08" x2="496.5" y2="58.08" stroke="#9c9c9c" stroke-width="0.9" />
<line x1="493.6" y1="51.71" x2="496.5" y2="51.71" stroke="#9c9c9c" stroke-width="0.9" />
<line x1="493.6" y1="46.5" x2="496.5" y2="46.5" stroke="#9c9c9c" stroke-width="0.9" />
<line x1="493.6" y1="42.09" x2="496.5" y2="42.09" stroke="#9c9c9c" stroke-width="0.9" />
<line x1="493.6" y1="38.28" x2="496.5" y2="38.28" stroke="#9c9c9c" stroke-width="0.9" />
<line x1="493.6" y1="34.91" x2="496.5" y2="34.91" stroke="#9c9c9c" stroke-width="0.9" />
<line x1="493.6" y1="31.9" x2="498" y2="31.9" stroke="#9c9c9c" stroke-width="0.9" />
<line x1="493.6" y1="12.09" x2="496.5" y2="12.09" stroke="#9c9c9c" stroke-width="0.9" />
<text class="d" x="469.31" y="232.2" font-size="8.4" fill="#111111" textLength="10.18" lengthAdjust="spacingAndGlyphs">10</text>
<text class="d" x="479.79" y="229.2" font-size="5.57" fill="#111111" textLength="7.81" lengthAdjust="spacingAndGlyphs">−4</text>
<text class="d" x="469.31" y="166.4" font-size="8.4" fill="#111111" textLength="10.18" lengthAdjust="spacingAndGlyphs">10</text>
<text class="d" x="479.79" y="163.4" font-size="5.57" fill="#111111" textLength="7.81" lengthAdjust="spacingAndGlyphs">−3</text>
<text class="d" x="469.31" y="100.6" font-size="8.4" fill="#111111" textLength="10.18" lengthAdjust="spacingAndGlyphs">10</text>
<text class="d" x="479.79" y="97.6" font-size="5.57" fill="#111111" textLength="7.81" lengthAdjust="spacingAndGlyphs">−2</text>
<text class="d" x="469.31" y="34.8" font-size="8.4" fill="#111111" textLength="10.18" lengthAdjust="spacingAndGlyphs">10</text>
<text class="d" x="479.79" y="31.8" font-size="5.57" fill="#111111" textLength="7.81" lengthAdjust="spacingAndGlyphs">−1</text>
<text class="d" x="534.97" y="241.2" font-size="8.4" fill="#111111" textLength="10.18" lengthAdjust="spacingAndGlyphs">10</text>
<text class="d" x="545.45" y="238.2" font-size="5.57" fill="#111111" textLength="3.37" lengthAdjust="spacingAndGlyphs">1</text>
<text class="d" x="574.32" y="241.2" font-size="8.4" fill="#111111" textLength="10.18" lengthAdjust="spacingAndGlyphs">10</text>
<text class="d" x="584.8" y="238.2" font-size="5.57" fill="#111111" textLength="3.37" lengthAdjust="spacingAndGlyphs">2</text>
<text class="d" x="613.67" y="241.2" font-size="8.4" fill="#111111" textLength="10.18" lengthAdjust="spacingAndGlyphs">10</text>
<text class="d" x="624.15" y="238.2" font-size="5.57" fill="#111111" textLength="3.37" lengthAdjust="spacingAndGlyphs">3</text>
<text class="d" x="653.02" y="241.2" font-size="8.4" fill="#111111" textLength="10.18" lengthAdjust="spacingAndGlyphs">10</text>
<text class="d" x="663.5" y="238.2" font-size="5.57" fill="#111111" textLength="3.37" lengthAdjust="spacingAndGlyphs">4</text>
<text x="504.4" y="85.8" font-size="8.32" fill="#111111" textLength="95.01" lengthAdjust="spacingAndGlyphs" >Workload with 100% reads</text>
<text x="504.4" y="95.8" font-size="8.32" fill="#111111" textLength="49.81" lengthAdjust="spacingAndGlyphs" >Fe0.015:r0.04</text>
<text x="577.6" y="219.9" font-size="8.32" fill="#111111" textLength="22.52" lengthAdjust="spacingAndGlyphs" >Writes</text>
<text x="606.6" y="219.9" font-size="8.32" fill="#111111" textLength="23.12" lengthAdjust="spacingAndGlyphs" >Reads</text>
<text class="d" x="576.28" y="254.6" font-size="8.4" fill="#111111" textLength="14.32" lengthAdjust="spacingAndGlyphs">IO (</text>
<text x="591.8" y="254.4" font-size="7.0" font-style="italic" fill="#111111">#</text>
<text class="d" x="598" y="254.6" font-size="8.4" fill="#111111" textLength="3.12" lengthAdjust="spacingAndGlyphs">)</text>
<text class="d" x="466.4" y="142.3" font-size="8.4" fill="#111111" textLength="39.15" lengthAdjust="spacingAndGlyphs" transform="rotate(-90 466.4 142.3)">Energy (J)</text>
<text x="460.8" y="10.8" font-size="9.36" fill="#111111" textLength="4.5" lengthAdjust="spacingAndGlyphs" >c</text>
<path d="M38.5 312.6 L39.3 314.4 L40.5 316.4 L42 317.9 L43.8 319 L47 320.2 L52.6 321.3 L60 322.3 L67 322.8 L75 323.6 L80 324.6 L88 325.2 L96 325.6 L110 325.8 L131 326.1 L148.6 327 L150.3 328.1 L160 328.9 L171.4 329.8 L173 330.5 L182.8 330.8 L185 332.2 L187.2 334 L193 334.4 L200.3 335.1 L201.5 336.1 L203 336.4 L209 337 L215.3 337.5 L221 338 L227.5 338.9 L228.5 339.5 L230.2 341 L231.7 342.5 L236 342.9 L241.7 343.3 L244.5 344.8 L247.8 346.5 L251 347 L254.8 347.2 L257.5 348.9 L260.1 350.4 L264.5 351.3 L268.9 352.2 L272.5 354.4 L275.9 356.7 L280 357.6 L283.8 358.4 L285 360.2 L286.4 361.4 L290 361.8 L293.4 362.2 L295 364.3 L296.9 366.7 L299 367.3 L301.3 367.8 L303.8 370 L306.6 372.3 L307 375 L307.5 377.2 L309 378.3 L310.1 379.2 L310.3 384 L311.3 391.7 L312.8 398 L314.1 403.3 L315 409 L316 415 L316.6 420 L317.1 424.3 L318.8 425.2 L320.6 426.2 L321.2 429.5 L321.8 432.5 L323.2 433.4 L324.6 434.1 L324.7 440 L324.7 472.8" fill="none" stroke="#56c19d" stroke-width="1.4" stroke-linejoin="round" />
<path d="M49.85 318.65 L55.15 323.95 M49.85 323.95 L55.15 318.65" stroke="#111" stroke-width="1.6" fill="none"/>
<path d="M53.75 318.65 L59.05 323.95 M53.75 323.95 L59.05 318.65" stroke="#111" stroke-width="1.6" fill="none"/>
<path d="M64.45 320.05 L69.75 325.35 M64.45 325.35 L69.75 320.05" stroke="#111" stroke-width="1.6" fill="none"/>
<path d="M72.65 320.35 L77.95 325.65 M72.65 325.65 L77.95 320.35" stroke="#111" stroke-width="1.6" fill="none"/>
<path d="M93.55 322.65 L98.85 327.95 M93.55 327.95 L98.85 322.65" stroke="#111" stroke-width="1.6" fill="none"/>
<path d="M37.2 273.6 L338.4 273.6 L338.4 485.3 L37.2 485.3" fill="none" stroke="#a0a0a0" stroke-width="1.0"/>
<line x1="38.1" y1="273.1" x2="38.1" y2="485.8" stroke="#bcbcbc" stroke-width="1.8" />
<line x1="52.28" y1="485.3" x2="52.28" y2="482.4" stroke="#aeaeae" stroke-width="0.9" />
<line x1="66.85" y1="485.3" x2="66.85" y2="482.4" stroke="#aeaeae" stroke-width="0.9" />
<line x1="81.42" y1="485.3" x2="81.42" y2="482.4" stroke="#aeaeae" stroke-width="0.9" />
<line x1="96" y1="485.3" x2="96" y2="482.4" stroke="#aeaeae" stroke-width="0.9" />
<line x1="110.58" y1="485.3" x2="110.58" y2="480.9" stroke="#aeaeae" stroke-width="0.9" />
<line x1="125.15" y1="485.3" x2="125.15" y2="482.4" stroke="#aeaeae" stroke-width="0.9" />
<line x1="139.72" y1="485.3" x2="139.72" y2="482.4" stroke="#aeaeae" stroke-width="0.9" />
<line x1="154.3" y1="485.3" x2="154.3" y2="482.4" stroke="#aeaeae" stroke-width="0.9" />
<line x1="168.88" y1="485.3" x2="168.88" y2="482.4" stroke="#aeaeae" stroke-width="0.9" />
<line x1="183.45" y1="485.3" x2="183.45" y2="480.9" stroke="#aeaeae" stroke-width="0.9" />
<line x1="256.32" y1="485.3" x2="256.32" y2="480.9" stroke="#aeaeae" stroke-width="0.9" />
<line x1="329.2" y1="485.3" x2="329.2" y2="480.9" stroke="#aeaeae" stroke-width="0.9" />
<line x1="39.9" y1="485.3" x2="39.9" y2="482.4" stroke="#c6c6c6" stroke-width="0.8" />
<line x1="41.5" y1="485.3" x2="41.5" y2="482.4" stroke="#c6c6c6" stroke-width="0.8" />
<line x1="43.1" y1="485.3" x2="43.1" y2="482.4" stroke="#c6c6c6" stroke-width="0.8" />
<line x1="44.8" y1="485.3" x2="44.8" y2="482.4" stroke="#c6c6c6" stroke-width="0.8" />
<line x1="46.4" y1="485.3" x2="46.4" y2="482.4" stroke="#c6c6c6" stroke-width="0.8" />
<line x1="48" y1="485.3" x2="48" y2="482.4" stroke="#c6c6c6" stroke-width="0.8" />
<line x1="49.7" y1="485.3" x2="49.7" y2="482.4" stroke="#c6c6c6" stroke-width="0.8" />
<line x1="37.6" y1="485.3" x2="42" y2="485.3" stroke="#aeaeae" stroke-width="0.9" />
<line x1="37.6" y1="464.06" x2="40.5" y2="464.06" stroke="#aeaeae" stroke-width="0.9" />
<line x1="37.6" y1="451.63" x2="40.5" y2="451.63" stroke="#aeaeae" stroke-width="0.9" />
<line x1="37.6" y1="442.81" x2="40.5" y2="442.81" stroke="#aeaeae" stroke-width="0.9" />
<line x1="37.6" y1="435.98" x2="40.5" y2="435.98" stroke="#aeaeae" stroke-width="0.9" />
<line x1="37.6" y1="430.39" x2="40.5" y2="430.39" stroke="#aeaeae" stroke-width="0.9" />
<line x1="37.6" y1="425.66" x2="40.5" y2="425.66" stroke="#aeaeae" stroke-width="0.9" />
<line x1="37.6" y1="421.57" x2="40.5" y2="421.57" stroke="#aeaeae" stroke-width="0.9" />
<line x1="37.6" y1="417.96" x2="40.5" y2="417.96" stroke="#aeaeae" stroke-width="0.9" />
<line x1="37.6" y1="414.73" x2="42" y2="414.73" stroke="#aeaeae" stroke-width="0.9" />
<line x1="37.6" y1="393.49" x2="40.5" y2="393.49" stroke="#aeaeae" stroke-width="0.9" />
<line x1="37.6" y1="381.06" x2="40.5" y2="381.06" stroke="#aeaeae" stroke-width="0.9" />
<line x1="37.6" y1="372.25" x2="40.5" y2="372.25" stroke="#aeaeae" stroke-width="0.9" />
<line x1="37.6" y1="365.41" x2="40.5" y2="365.41" stroke="#aeaeae" stroke-width="0.9" />
<line x1="37.6" y1="359.82" x2="40.5" y2="359.82" stroke="#aeaeae" stroke-width="0.9" />
<line x1="37.6" y1="355.1" x2="40.5" y2="355.1" stroke="#aeaeae" stroke-width="0.9" />
<line x1="37.6" y1="351.01" x2="40.5" y2="351.01" stroke="#aeaeae" stroke-width="0.9" />
<line x1="37.6" y1="347.4" x2="40.5" y2="347.4" stroke="#aeaeae" stroke-width="0.9" />
<line x1="37.6" y1="344.17" x2="42" y2="344.17" stroke="#aeaeae" stroke-width="0.9" />
<line x1="37.6" y1="322.92" x2="40.5" y2="322.92" stroke="#aeaeae" stroke-width="0.9" />
<line x1="37.6" y1="310.5" x2="40.5" y2="310.5" stroke="#aeaeae" stroke-width="0.9" />
<line x1="37.6" y1="301.68" x2="40.5" y2="301.68" stroke="#aeaeae" stroke-width="0.9" />
<line x1="37.6" y1="294.84" x2="40.5" y2="294.84" stroke="#aeaeae" stroke-width="0.9" />
<line x1="37.6" y1="289.26" x2="40.5" y2="289.26" stroke="#aeaeae" stroke-width="0.9" />
<line x1="37.6" y1="284.53" x2="40.5" y2="284.53" stroke="#aeaeae" stroke-width="0.9" />
<line x1="37.6" y1="280.44" x2="40.5" y2="280.44" stroke="#aeaeae" stroke-width="0.9" />
<line x1="37.6" y1="276.83" x2="40.5" y2="276.83" stroke="#aeaeae" stroke-width="0.9" />
<text class="d" x="18.75" y="488.9" font-size="8.4" fill="#111111" textLength="10.18" lengthAdjust="spacingAndGlyphs">10</text>
<text class="d" x="29.23" y="485.9" font-size="5.57" fill="#111111" textLength="3.37" lengthAdjust="spacingAndGlyphs">0</text>
<text class="d" x="18.75" y="418.33" font-size="8.4" fill="#111111" textLength="10.18" lengthAdjust="spacingAndGlyphs">10</text>
<text class="d" x="29.23" y="415.33" font-size="5.57" fill="#111111" textLength="3.37" lengthAdjust="spacingAndGlyphs">1</text>
<text class="d" x="18.75" y="347.77" font-size="8.4" fill="#111111" textLength="10.18" lengthAdjust="spacingAndGlyphs">10</text>
<text class="d" x="29.23" y="344.77" font-size="5.57" fill="#111111" textLength="3.37" lengthAdjust="spacingAndGlyphs">2</text>
<text class="d" x="18.75" y="277.2" font-size="8.4" fill="#111111" textLength="10.18" lengthAdjust="spacingAndGlyphs">10</text>
<text class="d" x="29.23" y="274.2" font-size="5.57" fill="#111111" textLength="3.37" lengthAdjust="spacingAndGlyphs">3</text>
<text class="d" x="35.76" y="496.7" font-size="8.4" fill="#111111" textLength="5.09" lengthAdjust="spacingAndGlyphs">0</text>
<text class="d" x="93.84" y="497.7" font-size="8.4" fill="#111111" textLength="29.61" lengthAdjust="spacingAndGlyphs">0.5×10</text>
<text class="d" x="123.85" y="494.6" font-size="5.78" fill="#111111" textLength="3.5" lengthAdjust="spacingAndGlyphs">3</text>
<text class="d" x="170.53" y="497.7" font-size="8.4" fill="#111111" textLength="21.97" lengthAdjust="spacingAndGlyphs">1×10</text>
<text class="d" x="192.9" y="494.6" font-size="5.78" fill="#111111" textLength="3.5" lengthAdjust="spacingAndGlyphs">3</text>
<text class="d" x="239.59" y="497.7" font-size="8.4" fill="#111111" textLength="29.61" lengthAdjust="spacingAndGlyphs">1.5×10</text>
<text class="d" x="269.6" y="494.6" font-size="5.78" fill="#111111" textLength="3.5" lengthAdjust="spacingAndGlyphs">3</text>
<text class="d" x="316.28" y="497.7" font-size="8.4" fill="#111111" textLength="21.97" lengthAdjust="spacingAndGlyphs">2×10</text>
<text class="d" x="338.65" y="494.6" font-size="5.78" fill="#111111" textLength="3.5" lengthAdjust="spacingAndGlyphs">3</text>
<text class="d" x="153.46" y="511.8" font-size="8.4" fill="#111111" textLength="69.08" lengthAdjust="spacingAndGlyphs">Number of pages</text>
<text class="d" x="10" y="399.4" font-size="8.4" fill="#111111" textLength="30.14" lengthAdjust="spacingAndGlyphs" transform="rotate(-90 10 399.4)">Net IO J</text>
<text class="d" x="6.9" y="369.56" font-size="5.57" fill="#111111" textLength="7.81" lengthAdjust="spacingAndGlyphs" transform="rotate(-90 6.9 369.56)">−1</text>
<text x="43.4" y="281.6" font-size="8.32" fill="#111111" textLength="90.56" lengthAdjust="spacingAndGlyphs" >Workload with 50% reads</text>
<text x="43.4" y="291.8" font-size="8.32" fill="#111111" textLength="49.81" lengthAdjust="spacingAndGlyphs" >Fe0.015:r0.04</text>
<text x="2.3" y="266" font-size="9.36" fill="#111111" textLength="5.01" lengthAdjust="spacingAndGlyphs" >d</text>
<rect x="150.5" y="455.4" width="75.7" height="26.3" rx="1.6" fill="#fff" fill-opacity="0.8" stroke="#e4e4e4" stroke-width="0.8"/>
<line x1="153.1" y1="462.2" x2="170.4" y2="462.2" stroke="#56c19d" stroke-width="1.4" />
<path d="M158.85 471.55 L164.15 476.85 M158.85 476.85 L164.15 471.55" stroke="#111" stroke-width="1.6" fill="none"/>
<text class="d" x="176.5" y="464.9" font-size="8.4" fill="#111111" textLength="44.63" lengthAdjust="spacingAndGlyphs">Calculation</text>
<text class="d" x="176.5" y="476.8" font-size="8.4" fill="#111111" textLength="46.22" lengthAdjust="spacingAndGlyphs">Experiment</text>
<path d="M380 272.6 L381 277.5 L382.1 282.2 L383.3 284.2 L384.7 285.7 L386.5 290.2 L388.2 294.5 L389.5 295.4 L390.9 296.4 L392.7 300.2 L394.4 304.1 L395.6 304.9 L397 305.5 L400.5 309.2 L404 312.8 L407.5 316.4 L407.9 318.4 L408.4 319.9 L410 320.3 L411.9 320.8 L412.8 322.5 L418.5 326.5 L424 330.2 L429.5 333.9 L434 337 L440 341 L446.7 345.4 L448 346 L450.7 346.3 L451.2 348.5 L451.9 350.2 L455 350.7 L458.1 351.2 L461 352.9 L464.2 354.6 L467.7 355.1 L474 357.4 L480.9 360 L482.8 362.1 L484.7 364.2 L492.3 364.4 L492.7 366.4 L493.2 367.9 L500 370.5 L507.2 373.2 L511 374.1 L515.1 374.7 L516.4 375.8 L517.7 376.7 L523 377.9 L528.2 378.8 L534 381.2 L540.5 384 L545 384.9 L550 385.8 L557.3 387.4 L559 388.6 L561.5 389.3 L563 390.6 L565.4 391.5 L569.5 392.8 L573.6 394.1 L577.5 396.2 L581.8 398 L585.5 399 L588.9 400.2 L594.5 402.7 L600.2 405.2 L606 408.4 L612.4 411.5 L617 412.7 L621.6 413.9 L622.4 415.8 L623.1 417.4 L630.4 417.6 L630.8 420.3 L631.2 422.7 L633.5 424.5 L635.9 426.2 L636.6 427.9 L637.4 429.3 L639.2 429.6 L641.1 429.9 L643 437.5 L645.1 445.2 L647.6 446.5 L650.3 447.7 L650.8 449.4 L651.3 450.7 L654.5 455.2 L657.8 459.3" fill="none" stroke="#56c19d" stroke-width="1.4" stroke-linejoin="round" />
<path d="M429.35 344.75 L434.65 350.05 M429.35 350.05 L434.65 344.75" stroke="#111" stroke-width="1.6" fill="none"/>
<path d="M371.3 272.8 L672.7 272.8 L672.7 484.9 L371.3 484.9" fill="none" stroke="#a0a0a0" stroke-width="1.0"/>
<line x1="372.2" y1="272.3" x2="372.2" y2="485.4" stroke="#bcbcbc" stroke-width="1.8" />
<line x1="387.21" y1="484.9" x2="387.21" y2="482" stroke="#aeaeae" stroke-width="0.9" />
<line x1="402.22" y1="484.9" x2="402.22" y2="482" stroke="#aeaeae" stroke-width="0.9" />
<line x1="417.23" y1="484.9" x2="417.23" y2="482" stroke="#aeaeae" stroke-width="0.9" />
<line x1="432.24" y1="484.9" x2="432.24" y2="482" stroke="#aeaeae" stroke-width="0.9" />
<line x1="447.25" y1="484.9" x2="447.25" y2="480.5" stroke="#aeaeae" stroke-width="0.9" />
<line x1="462.26" y1="484.9" x2="462.26" y2="482" stroke="#aeaeae" stroke-width="0.9" />
<line x1="477.27" y1="484.9" x2="477.27" y2="482" stroke="#aeaeae" stroke-width="0.9" />
<line x1="492.28" y1="484.9" x2="492.28" y2="482" stroke="#aeaeae" stroke-width="0.9" />
<line x1="507.29" y1="484.9" x2="507.29" y2="482" stroke="#aeaeae" stroke-width="0.9" />
<line x1="522.3" y1="484.9" x2="522.3" y2="480.5" stroke="#aeaeae" stroke-width="0.9" />
<line x1="597.35" y1="484.9" x2="597.35" y2="480.5" stroke="#aeaeae" stroke-width="0.9" />
<line x1="374.7" y1="484.9" x2="374.7" y2="482" stroke="#c6c6c6" stroke-width="0.8" />
<line x1="376.2" y1="484.9" x2="376.2" y2="482" stroke="#c6c6c6" stroke-width="0.8" />
<line x1="377.7" y1="484.9" x2="377.7" y2="482" stroke="#c6c6c6" stroke-width="0.8" />
<line x1="379.2" y1="484.9" x2="379.2" y2="482" stroke="#c6c6c6" stroke-width="0.8" />
<line x1="380.7" y1="484.9" x2="380.7" y2="482" stroke="#c6c6c6" stroke-width="0.8" />
<line x1="382.1" y1="484.9" x2="382.1" y2="482" stroke="#c6c6c6" stroke-width="0.8" />
<line x1="383.6" y1="484.9" x2="383.6" y2="482" stroke="#c6c6c6" stroke-width="0.8" />
<line x1="385.1" y1="484.9" x2="385.1" y2="482" stroke="#c6c6c6" stroke-width="0.8" />
<line x1="371.7" y1="485" x2="376.1" y2="485" stroke="#aeaeae" stroke-width="0.9" />
<line x1="371.7" y1="469.02" x2="374.6" y2="469.02" stroke="#aeaeae" stroke-width="0.9" />
<line x1="371.7" y1="459.66" x2="374.6" y2="459.66" stroke="#aeaeae" stroke-width="0.9" />
<line x1="371.7" y1="453.03" x2="374.6" y2="453.03" stroke="#aeaeae" stroke-width="0.9" />
<line x1="371.7" y1="447.88" x2="374.6" y2="447.88" stroke="#aeaeae" stroke-width="0.9" />
<line x1="371.7" y1="443.68" x2="374.6" y2="443.68" stroke="#aeaeae" stroke-width="0.9" />
<line x1="371.7" y1="440.13" x2="374.6" y2="440.13" stroke="#aeaeae" stroke-width="0.9" />
<line x1="371.7" y1="437.05" x2="374.6" y2="437.05" stroke="#aeaeae" stroke-width="0.9" />
<line x1="371.7" y1="434.33" x2="374.6" y2="434.33" stroke="#aeaeae" stroke-width="0.9" />
<line x1="371.7" y1="431.9" x2="376.1" y2="431.9" stroke="#aeaeae" stroke-width="0.9" />
<line x1="371.7" y1="415.92" x2="374.6" y2="415.92" stroke="#aeaeae" stroke-width="0.9" />
<line x1="371.7" y1="406.56" x2="374.6" y2="406.56" stroke="#aeaeae" stroke-width="0.9" />
<line x1="371.7" y1="399.93" x2="374.6" y2="399.93" stroke="#aeaeae" stroke-width="0.9" />
<line x1="371.7" y1="394.78" x2="374.6" y2="394.78" stroke="#aeaeae" stroke-width="0.9" />
<line x1="371.7" y1="390.58" x2="374.6" y2="390.58" stroke="#aeaeae" stroke-width="0.9" />
<line x1="371.7" y1="387.03" x2="374.6" y2="387.03" stroke="#aeaeae" stroke-width="0.9" />
<line x1="371.7" y1="383.95" x2="374.6" y2="383.95" stroke="#aeaeae" stroke-width="0.9" />
<line x1="371.7" y1="381.23" x2="374.6" y2="381.23" stroke="#aeaeae" stroke-width="0.9" />
<line x1="371.7" y1="378.8" x2="376.1" y2="378.8" stroke="#aeaeae" stroke-width="0.9" />
<line x1="371.7" y1="362.82" x2="374.6" y2="362.82" stroke="#aeaeae" stroke-width="0.9" />
<line x1="371.7" y1="353.46" x2="374.6" y2="353.46" stroke="#aeaeae" stroke-width="0.9" />
<line x1="371.7" y1="346.83" x2="374.6" y2="346.83" stroke="#aeaeae" stroke-width="0.9" />
<line x1="371.7" y1="341.68" x2="374.6" y2="341.68" stroke="#aeaeae" stroke-width="0.9" />
<line x1="371.7" y1="337.48" x2="374.6" y2="337.48" stroke="#aeaeae" stroke-width="0.9" />
<line x1="371.7" y1="333.93" x2="374.6" y2="333.93" stroke="#aeaeae" stroke-width="0.9" />
<line x1="371.7" y1="330.85" x2="374.6" y2="330.85" stroke="#aeaeae" stroke-width="0.9" />
<line x1="371.7" y1="328.13" x2="374.6" y2="328.13" stroke="#aeaeae" stroke-width="0.9" />
<line x1="371.7" y1="325.7" x2="376.1" y2="325.7" stroke="#aeaeae" stroke-width="0.9" />
<line x1="371.7" y1="309.72" x2="374.6" y2="309.72" stroke="#aeaeae" stroke-width="0.9" />
<line x1="371.7" y1="300.36" x2="374.6" y2="300.36" stroke="#aeaeae" stroke-width="0.9" />
<line x1="371.7" y1="293.73" x2="374.6" y2="293.73" stroke="#aeaeae" stroke-width="0.9" />
<line x1="371.7" y1="288.58" x2="374.6" y2="288.58" stroke="#aeaeae" stroke-width="0.9" />
<line x1="371.7" y1="284.38" x2="374.6" y2="284.38" stroke="#aeaeae" stroke-width="0.9" />
<line x1="371.7" y1="280.83" x2="374.6" y2="280.83" stroke="#aeaeae" stroke-width="0.9" />
<line x1="371.7" y1="277.75" x2="374.6" y2="277.75" stroke="#aeaeae" stroke-width="0.9" />
<line x1="371.7" y1="275.03" x2="374.6" y2="275.03" stroke="#aeaeae" stroke-width="0.9" />
<text class="d" x="352.45" y="488.3" font-size="8.4" fill="#111111" textLength="10.18" lengthAdjust="spacingAndGlyphs">10</text>
<text class="d" x="362.93" y="485.3" font-size="5.57" fill="#111111" textLength="3.37" lengthAdjust="spacingAndGlyphs">0</text>
<text class="d" x="352.45" y="435.2" font-size="8.4" fill="#111111" textLength="10.18" lengthAdjust="spacingAndGlyphs">10</text>
<text class="d" x="362.93" y="432.2" font-size="5.57" fill="#111111" textLength="3.37" lengthAdjust="spacingAndGlyphs">1</text>
<text class="d" x="352.45" y="382.1" font-size="8.4" fill="#111111" textLength="10.18" lengthAdjust="spacingAndGlyphs">10</text>
<text class="d" x="362.93" y="379.1" font-size="5.57" fill="#111111" textLength="3.37" lengthAdjust="spacingAndGlyphs">2</text>
<text class="d" x="352.45" y="329" font-size="8.4" fill="#111111" textLength="10.18" lengthAdjust="spacingAndGlyphs">10</text>
<text class="d" x="362.93" y="326" font-size="5.57" fill="#111111" textLength="3.37" lengthAdjust="spacingAndGlyphs">3</text>
<text class="d" x="369.86" y="496" font-size="8.4" fill="#111111" textLength="5.09" lengthAdjust="spacingAndGlyphs">0</text>
<text class="d" x="430.52" y="496.6" font-size="8.4" fill="#111111" textLength="29.61" lengthAdjust="spacingAndGlyphs">0.5×10</text>
<text class="d" x="460.52" y="493.5" font-size="5.78" fill="#111111" textLength="3.5" lengthAdjust="spacingAndGlyphs">3</text>
<text class="d" x="509.38" y="496.6" font-size="8.4" fill="#111111" textLength="21.97" lengthAdjust="spacingAndGlyphs">1×10</text>
<text class="d" x="531.75" y="493.5" font-size="5.78" fill="#111111" textLength="3.5" lengthAdjust="spacingAndGlyphs">3</text>
<text class="d" x="580.62" y="496.6" font-size="8.4" fill="#111111" textLength="29.61" lengthAdjust="spacingAndGlyphs">1.5×10</text>
<text class="d" x="610.62" y="493.5" font-size="5.78" fill="#111111" textLength="3.5" lengthAdjust="spacingAndGlyphs">3</text>
<text class="d" x="659.48" y="496.6" font-size="8.4" fill="#111111" textLength="21.97" lengthAdjust="spacingAndGlyphs">2×10</text>
<text class="d" x="681.85" y="493.5" font-size="5.78" fill="#111111" textLength="3.5" lengthAdjust="spacingAndGlyphs">3</text>
<text class="d" x="487.66" y="510.8" font-size="8.4" fill="#111111" textLength="69.08" lengthAdjust="spacingAndGlyphs">Number of pages</text>
<text class="d" x="350.4" y="398.4" font-size="8.4" fill="#111111" textLength="30.14" lengthAdjust="spacingAndGlyphs" transform="rotate(-90 350.4 398.4)">Net IO J</text>
<text class="d" x="347.3" y="368.56" font-size="5.57" fill="#111111" textLength="7.81" lengthAdjust="spacingAndGlyphs" transform="rotate(-90 347.3 368.56)">−1</text>
<text x="484.7" y="281" font-size="8.32" fill="#111111" textLength="95.01" lengthAdjust="spacingAndGlyphs" >Workload with 100% reads</text>
<text x="484.7" y="291.2" font-size="8.32" fill="#111111" textLength="49.81" lengthAdjust="spacingAndGlyphs" >Fe0.015:r0.04</text>
<text x="344.2" y="267.3" font-size="9.36" fill="#111111" textLength="5.01" lengthAdjust="spacingAndGlyphs" >e</text>
<rect x="484.6" y="454.4" width="75.7" height="26.3" rx="1.6" fill="#fff" fill-opacity="0.8" stroke="#e4e4e4" stroke-width="0.8"/>
<line x1="487.2" y1="461.1" x2="504.2" y2="461.1" stroke="#56c19d" stroke-width="1.4" />
<path d="M492.95 470.55 L498.25 475.85 M492.95 475.85 L498.25 470.55" stroke="#111" stroke-width="1.6" fill="none"/>
<text class="d" x="510.6" y="463.9" font-size="8.4" fill="#111111" textLength="44.63" lengthAdjust="spacingAndGlyphs">Calculation</text>
<text class="d" x="510.6" y="475.8" font-size="8.4" fill="#111111" textLength="46.22" lengthAdjust="spacingAndGlyphs">Experiment</text>
</g>
</svg>
</body>
</html>
